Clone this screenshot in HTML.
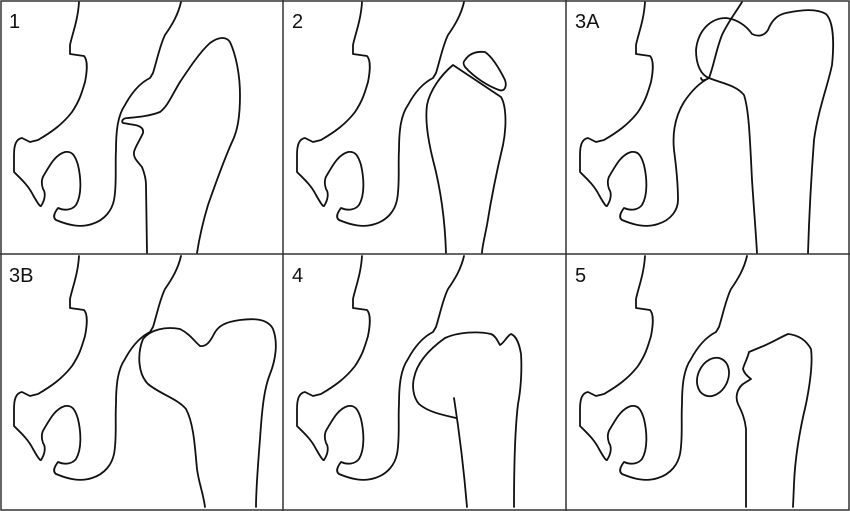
<!DOCTYPE html>
<html><head><meta charset="utf-8"><style>
html,body{margin:0;padding:0;background:#fff}
svg{display:block}
text{font-family:"Liberation Sans","DejaVu Sans",sans-serif;font-size:20px;fill:#111}
</style></head><body>
<svg width="850" height="511" viewBox="0 0 850 511" xmlns="http://www.w3.org/2000/svg">
<defs>
<path id="pelv" d="M79,2 C78,20 72,35 70,45 L70,54 L84,56 C88,60 87,72 85,82 C82,92 80,100 72,112 C62,125 50,133 38,140 L30,142 L22,138 C16,139 14,145 14,155 L14,172 C20,178 28,185 33,195 C37,202 40,207 41,206 C45,200 46,193 43,189 C41,183 42,178 44,175 C50,165 55,155 65,152 C72,151 75,155 78,165 C81,178 82,195 76,205 C72,210 65,211 58,208 C55,212 52,217 56,220 C68,225 80,228 92,224 C105,220 112,210 114,200 C117,185 115,165 116,150 C116,130 118,115 125,105 C132,92 140,83 150,78 L153,73 C157,60 160,45 165,35 C172,25 178,15 181,2"/>
<path id="pelvA" d="M79,2 C78,20 72,35 70,45 L70,54 L84,56 C88,60 87,72 85,82 C82,92 80,100 72,112 C62,125 50,133 38,140 L30,142 L22,138 C16,139 14,145 14,155 L14,172 C20,178 28,185 33,195 C37,202 40,207 41,206 C45,200 46,193 43,189 C41,183 42,178 44,175 C50,165 55,155 65,152 C72,151 75,155 78,165 C81,178 82,195 76,205 C72,210 65,211 58,208 C55,212 52,217 56,220 C68,225 80,228 92,224 C105,220 112,210 112,200 C112,185 110,165 108,150 C106,130 110,115 118,102 C126,90 135,82 143,78 C148,65 150,50 156,35 C162,22 170,12 176,2"/>
</defs>
<g fill="none" stroke="#111" stroke-width="1.8" stroke-linejoin="round" stroke-linecap="round">
<g transform="translate(0,0)">
<use href="#pelv"/>
<path d="M147,253 L146,185 C146,178 144,172 142,167 C138,162 133,158 134,152 C135,147 140,140 143,133 C144,128 140,126 135,125 L123,123 C121,121 123,118 128,118 C138,117 150,116 160,112 C168,106 172,95 180,82 C190,67 200,52 210,43 C218,37 226,36 230,42 C236,55 240,75 240,95 C240,115 238,130 232,142 C224,160 215,185 208,205 C202,225 199,240 197,253"/>
</g>
<g transform="translate(283,0)">
<use href="#pelv"/>
<path d="M163,253 C162,220 158,190 150,160 C145,140 142,120 144,105 C147,90 158,75 170,65 L218,97 C223,105 224,125 220,145 C214,170 208,200 204,225 C201,240 199,248 199,253"/>
<path d="M182,60 C186,54 192,51 202,52 C208,56 215,66 222,80 C224,86 222,92 216,90 C205,86 192,78 182,67 C180,64 180,62 182,60 Z"/>
</g>
<g transform="translate(566,0)">
<use href="#pelvA"/>
<path d="M143,78 C155,83 170,85 178,95 C183,110 184,140 186,180 C188,210 190,235 191,253"/>
<path d="M143,78 C135,75 130,65 130,50 C132,30 145,18 160,18 C170,19 180,25 186,34 C192,37 198,36 202,30 C205,22 210,15 220,13 C235,10 250,8 260,14 C268,22 268,45 266,65 C262,85 252,110 248,140 C245,180 243,220 242,253"/>
<path d="M143,78 C139,80 136,82 135,78"/>
</g>
<g transform="translate(0,254)">
<use href="#pelv"/>
<path d="M205,253 C203,238 199,230 197,215 C195,195 194,170 186,155 C178,145 160,140 148,130 C138,120 137,100 143,85 C150,76 165,72 180,75 C190,80 195,88 200,92 C206,93 210,88 214,80 C218,72 225,68 240,66 C255,64 268,65 273,75 C278,88 276,105 270,120 C264,135 262,155 260,185 C258,210 256,235 256,253"/>
</g>
<g transform="translate(283,254)">
<use href="#pelv"/>
<path d="M173,164 C160,161 145,158 136,150 C130,143 129,132 131,124 C134,108 148,94 162,84 C175,78 195,77 208,80 C213,82 215,88 217,91 C221,89 224,82 228,80 C233,82 236,88 238,100 C239,115 238,135 235,150 C232,175 231,210 231,253"/>
<path d="M171,144 C175,170 180,205 184,253"/>
</g>
<g transform="translate(566,254)">
<use href="#pelv"/>
<ellipse cx="147" cy="123" rx="15" ry="20" transform="rotate(25 147 123)"/>
<path d="M180,253 L180,175 C179,165 176,158 172,150 C169,143 171,135 177,130 L185,125 C181,122 178,119 177,115 C178,110 181,106 183,98 L195,93 C205,89 213,84 222,80 C232,81 240,86 245,95 C247,110 244,130 240,150 C234,175 229,205 228,230 L227,253"/>
</g>
</g>
<g fill="none" stroke="#333" stroke-width="1.5">
<rect x="1" y="1" width="848" height="509"/>
<line x1="283" y1="0" x2="283" y2="511"/>
<line x1="566" y1="0" x2="566" y2="511"/>
<line x1="0" y1="254" x2="850" y2="254"/>
</g>
<text x="9" y="28">1</text>
<text x="292" y="28">2</text>
<text x="575" y="28">3A</text>
<text x="9" y="282">3B</text>
<text x="292" y="282">4</text>
<text x="575" y="282">5</text>
</svg>
</body></html>
